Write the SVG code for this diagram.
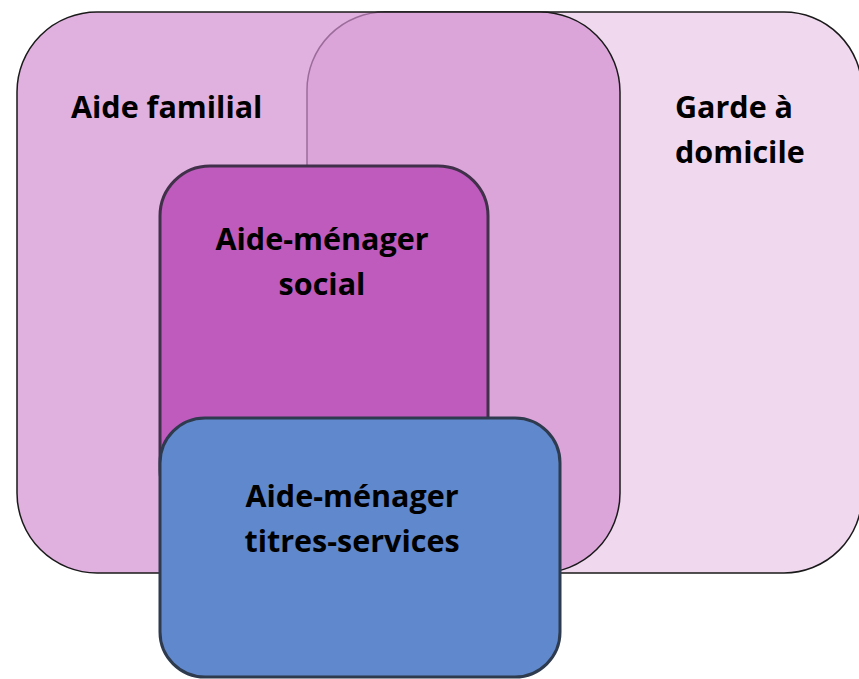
<svg xmlns="http://www.w3.org/2000/svg" width="859" height="679" viewBox="0 0 859 679">
  <style>
    .lbl { font-family: "Open Sans", "Liberation Sans", sans-serif; font-weight: bold; font-size: 30.5px; fill: #000; }
    .outer { stroke: #1a1a1a; stroke-width: 1.5; }
    .inner { stroke-width: 3; }
  </style>
  <rect width="859" height="679" fill="#ffffff"/>
  <g id="garde">
    <rect class="outer" x="307" y="12" width="555" height="561" rx="78" fill="#F0D9EF"/>
    <text class="lbl" x="675" y="118">Garde à</text>
    <text class="lbl" x="675" y="163">domicile</text>
  </g>
  <g id="aide-familial">
    <rect class="outer" x="17" y="12" width="603" height="561" rx="80" fill="rgb(211,142,209)" fill-opacity="0.7"/>
    <text class="lbl" x="71" y="118">Aide familial</text>
  </g>
  <g id="social">
    <rect class="inner" x="160" y="166" width="328" height="354" rx="50" fill="#BE5BBD" stroke="#40304A"/>
    <text class="lbl" x="322" y="250" text-anchor="middle">Aide-ménager</text>
    <text class="lbl" x="322" y="295" text-anchor="middle">social</text>
  </g>
  <g id="titres">
    <rect class="inner" x="160" y="418" width="400" height="259" rx="45" fill="#6088CC" stroke="#2E3A4E"/>
    <text class="lbl" x="352" y="507" text-anchor="middle">Aide-ménager</text>
    <text class="lbl" x="352" y="552" text-anchor="middle">titres-services</text>
  </g>
  <g id="connectors"/>
</svg>
